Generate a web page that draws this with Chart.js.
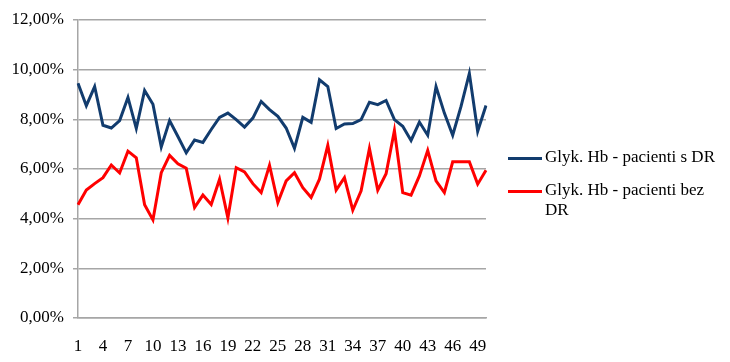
<!DOCTYPE html>
<html>
<head>
<meta charset="utf-8">
<script src="https://cdn.jsdelivr.net/npm/chart.js@4.4.0/dist/chart.umd.min.js"></script>
<style>
    html, body { margin: 0; padding: 0; background: #fff; }
    #wrap { position: relative; width: 730px; height: 362px; }
    #legend { position: absolute; left: 508px; top: 147px; font-family: 'Liberation Serif', serif; font-size: 17px; color: #000; }
    .item { display: flex; align-items: flex-start; margin-bottom: 13px; }
    .swatch { width: 34px; height: 3px; margin-top: 10px; margin-right: 3px; flex: none; }
    .txt { width: 180px; line-height: 20px; }
</style>
</head>
<body>
<div id="wrap">
    <canvas id="chart" width="730" height="362"></canvas>
    <div id="legend"></div>
</div>
<script>
// --- data ---
const categories = Array.from({length: 50}, (_, i) => String(i + 1));

const withDR = [
    9.45, 8.55, 9.32, 7.76, 7.65, 7.95, 8.88, 7.63, 9.16, 8.61,
    6.89, 7.95, 7.31, 6.65, 7.17, 7.07, 7.59, 8.08, 8.25, 7.99,
    7.69, 8.05, 8.72, 8.39, 8.12, 7.65, 6.83, 8.08, 7.88, 9.59,
    9.32, 7.63, 7.81, 7.83, 7.99, 8.69, 8.59, 8.76, 7.99, 7.72,
    7.15, 7.89, 7.36, 9.32, 8.25, 7.36, 8.52, 9.85, 7.52, 8.56
];

const withoutDR = [
    4.56, 5.15, 5.41, 5.65, 6.16, 5.84, 6.72, 6.45, 4.56, 3.95,
    5.85, 6.55, 6.21, 6.03, 4.45, 4.95, 4.57, 5.59, 4.03, 6.05,
    5.88, 5.41, 5.05, 6.15, 4.65, 5.52, 5.85, 5.25, 4.85, 5.59,
    6.95, 5.15, 5.65, 4.34, 5.12, 6.83, 5.15, 5.81, 7.55, 5.05,
    4.95, 5.72, 6.75, 5.52, 5.05, 6.29, 6.29, 6.29, 5.39, 5.95
];

const seriesLabels = ['Glyk. Hb - pacienti s DR', 'Glyk. Hb - pacienti bez DR'];
const seriesColors = ['#123c6e', '#ff0000'];

const serif = "'Liberation Serif', 'Times New Roman', serif";

const chart = new Chart(document.getElementById('chart'), {
    type: 'line',
    data: {
        labels: categories,
        datasets: [withDR, withoutDR].map((d, i) => ({
            label: seriesLabels[i],
            data: d,
            borderColor: seriesColors[i],
            backgroundColor: seriesColors[i],
            borderWidth: 3,
            pointRadius: 0,
            tension: 0
        }))
    },
    options: {
        responsive: false,
        animation: false,
        layout: { padding: { top: 20, right: 244, bottom: 0, left: 0 } },
        plugins: { legend: { display: false }, tooltip: { enabled: false } },
        scales: {
            x: {
                grid: { display: false },
                border: { color: '#a6a6a6', width: 1.5 },
                ticks: {
                    autoSkip: false, maxRotation: 0, padding: 10,
                    color: '#000', font: { family: serif, size: 17 },
                    callback: (v, i) => (i % 3 === 0 ? categories[i] : '')
                },
                afterFit: s => { s.height = 44; }
            },
            y: {
                min: 0, max: 12,
                grid: { color: '#a6a6a6', lineWidth: 1.5, tickLength: 5 },
                border: { color: '#a6a6a6', width: 1.5 },
                ticks: {
                    stepSize: 2, padding: 9, color: '#000',
                    font: { family: serif, size: 17 },
                    callback: v => v.toFixed(2).replace('.', ',') + '%'
                },
                afterFit: s => { s.width = 78; }
            }
        }
    }
});

// --- legend on the right, wrapped like the original ---
const legend = document.getElementById('legend');
chart.data.datasets.forEach(ds => {
    const item = document.createElement('div');
    item.className = 'item';
    item.innerHTML = `<div class="swatch" style="background:${ds.borderColor}"></div><div class="txt">${ds.label}</div>`;
    legend.appendChild(item);
});
</script>
</body>
</html>
